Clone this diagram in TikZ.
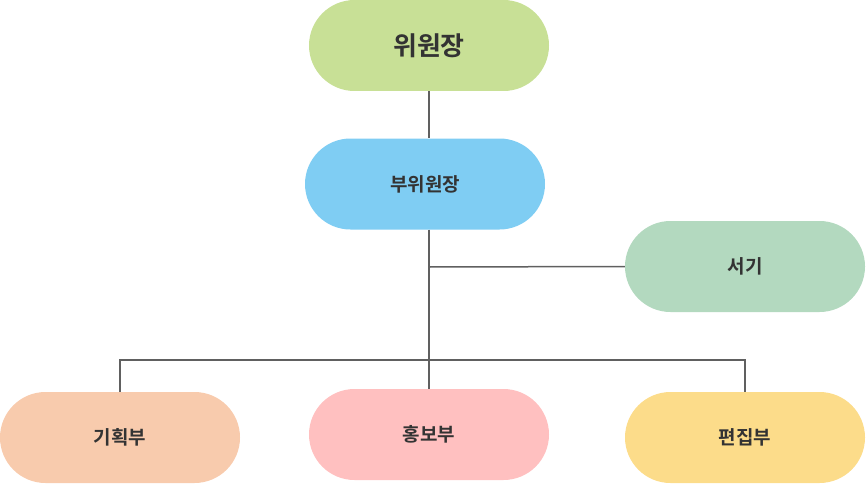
\documentclass[tikz,border=0pt]{standalone}
\usepackage{fontspec}
\usetikzlibrary{shapes.misc}
\newfontfamily\kr{Noto Sans CJK KR}[BoldFont={Noto Sans CJK KR Bold}]
\definecolor{cg}{HTML}{C8E096}
\definecolor{cb}{HTML}{7FCDF3}
\definecolor{cs}{HTML}{B3D9BF}
\definecolor{co}{HTML}{F8CBAD}
\definecolor{cp}{HTML}{FFC0C0}
\definecolor{cy}{HTML}{FCDC8A}
\definecolor{ln}{HTML}{606060}
\begin{document}
\begin{tikzpicture}[x=1pt,y=-1pt,
  box/.style={rounded rectangle,minimum width=240pt,minimum height=91pt,inner sep=0pt,font=\kr\bfseries\fontsize{19}{22}\selectfont,text=black!80},
  con/.style={draw=ln,line width=1.5pt}]
\useasboundingbox (0,0) rectangle (866,484);
\node[box,fill=cg,font=\kr\bfseries\fontsize{26}{30}\selectfont] (a) at (429,45.5) {위원장};
\node[box,fill=cb] (b) at (425,184) {부위원장};
\node[box,fill=cs] (s) at (745,266.5) {서기};
\node[box,fill=co] (k) at (120,437.5) {기획부};
\node[box,fill=cp] (h) at (429,434.5) {홍보부};
\node[box,fill=cy] (p) at (745,437.5) {편집부};
\coordinate (j1) at (429,267);
\coordinate (j2) at (429,360);
\draw[con] (a.south) -- (a.south |- b.north);
\draw[con] (j1 |- b.south) -- (h.north);
\draw[con] (j1) -- (s.west);
\draw[con] (k.north) -- (k.north |- j2) -- (p.north |- j2) -- (p.north);
\end{tikzpicture}
\end{document}
